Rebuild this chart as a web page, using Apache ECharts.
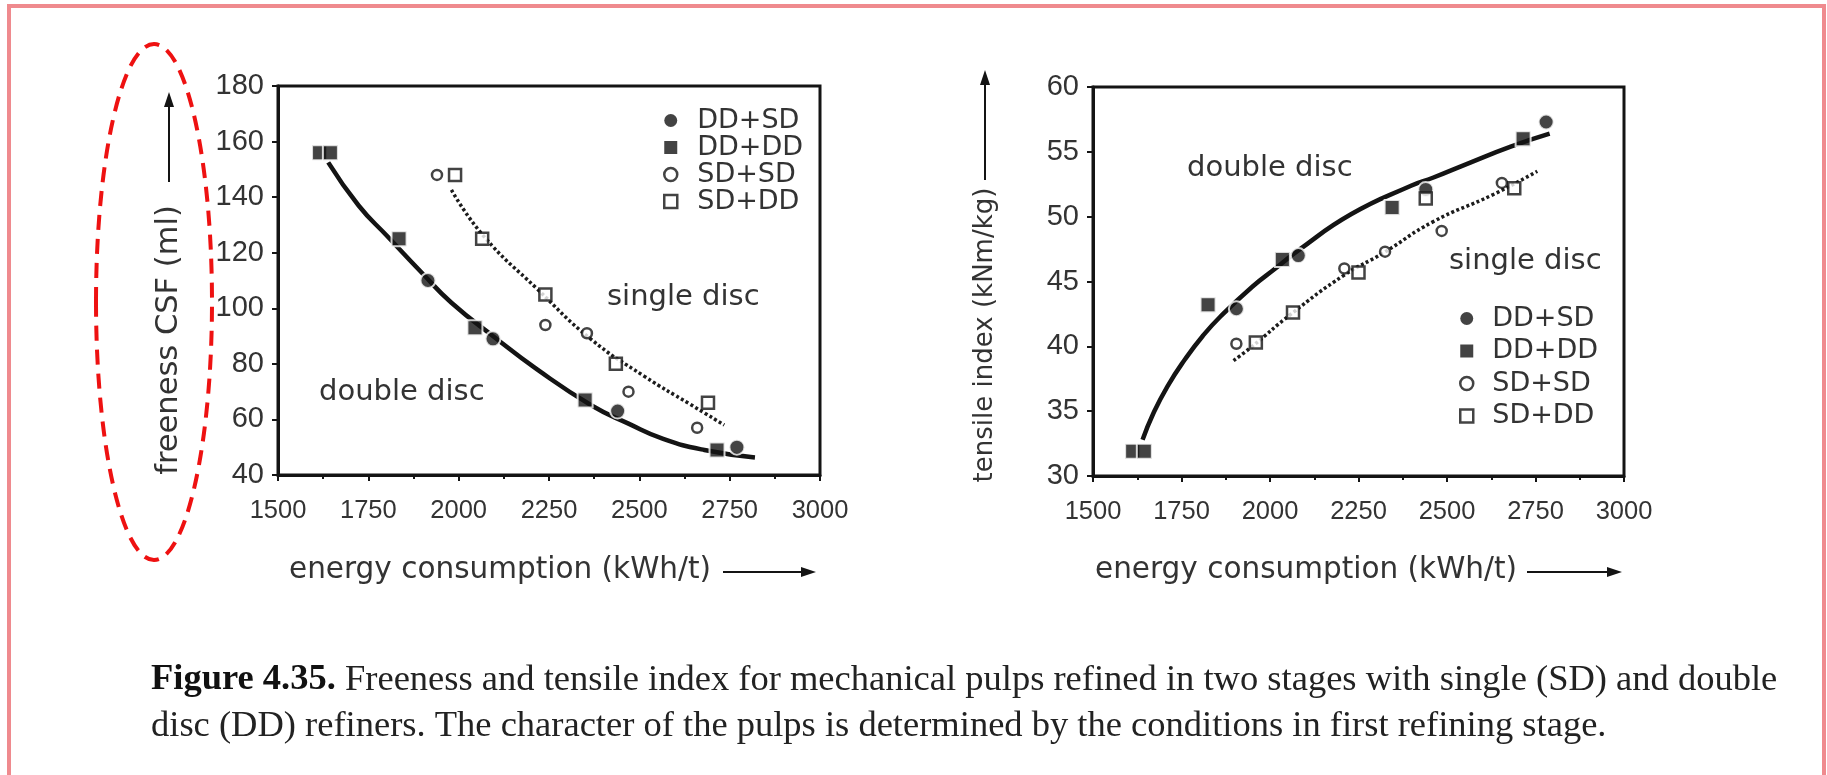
<!DOCTYPE html>
<html>
<head>
<meta charset="utf-8">
<script src="https://cdn.jsdelivr.net/npm/echarts@6/dist/echarts.min.js"></script>
<style>
html,body{margin:0;padding:0;background:#fff;}
#chart{width:1827px;height:775px;}
</style>
</head>
<body>
<div id="chart"></div>
<script>
// ---- Data ----
const energyTicks = [1500, 1750, 2000, 2250, 2500, 2750, 3000];
const freenessTicks = [40, 60, 80, 100, 120, 140, 160, 180];
const tensileTicks = [30, 35, 40, 45, 50, 55, 60];
const seriesNames = ['DD+SD', 'DD+DD', 'SD+SD', 'SD+DD'];

// Freeness CSF (ml) vs energy consumption (kWh/t)
const freenessDDSD = [[1915,110],[2095,89],[2440,63],[2770,50]];
const freenessDDDD = [[1615,156],[1645,156],[1835,125],[2045,93],[2350,67],[2715,49]];
const freenessSDSD = [[1940,148],[2240,94],[2355,91],[2470,70],[2660,57]];
const freenessSDDD = [[1990,148],[2065,125],[2240,105],[2435,80],[2690,66]];
const freenessDoubleDiscCurve = [[1639,152.5],[1723,137],[1802,126],[1900,112.5],[1980,102],[2100,89.5],[2217,78],[2368,65],[2470,58.5],[2566,53],[2680,49],[2820,46.3]];
const freenessSingleDiscCurve = [[1980,142.6],[2069,126],[2217,107],[2365,89],[2514,75.5],[2640,65.5],[2735,58]];

// Tensile index (kNm/kg) vs energy consumption (kWh/t)
const tensileDDSD = [[1905,42.9],[2080,47.0],[2440,52.1],[2780,57.3]];
const tensileDDDD = [[1612,31.9],[1645,31.9],[1825,43.2],[2035,46.7],[2345,50.7],[2715,56.0]];
const tensileSDSD = [[1905,40.2],[2210,46.0],[2325,47.3],[2485,48.9],[2655,52.6]];
const tensileSDDD = [[1960,40.3],[2065,42.6],[2250,45.7],[2440,51.4],[2690,52.2]];
const tensileDoubleDiscCurve = [[1640,32.8],[1670,34.8],[1710,36.9],[1760,39.0],[1810,40.8],[1860,42.3],[1950,44.6],[2015,46.0],[2080,47.4],[2230,50.2],[2400,52.4],[2460,53.0],[2550,54.0],[2680,55.4],[2790,56.4]];
const tensileSingleDiscCurve = [[1897,38.9],[1950,40.0],[2060,42.5],[2210,45.5],[2320,47.2],[2460,49.6],[2630,51.7],[2755,53.5]];

// ---- Styling helpers ----
const INK = '#141414';
const TXT = '#333';
const SANS = 'DejaVu Sans';
const TICKFONT = 'Liberation Sans';

const markerStyles = {
  'DD+SD': {symbol:'circle', symbolSize:15, itemStyle:{color:INK, borderColor:'#fff', borderWidth:2}},
  'DD+DD': {symbol:'rect', symbolSize:15, itemStyle:{color:INK, borderColor:'#fff', borderWidth:2}},
  'SD+SD': {symbol:'circle', symbolSize:10, itemStyle:{color:'#fff', borderColor:INK, borderWidth:2.5}},
  'SD+DD': {symbol:'rect', symbolSize:12, itemStyle:{color:'#fff', borderColor:INK, borderWidth:2.5}}
};

function xAxisFor(gi){
  return {
    gridIndex: gi, type:'value', min:1500, max:3000, interval:250,
    axisLine:{show:true, onZero:false, lineStyle:{color:INK, width:3}},
    axisTick:{show:true, length:6, lineStyle:{color:INK, width:2}},
    minorTick:{show:true, splitNumber:2, length:4, lineStyle:{color:INK, width:2}},
    splitLine:{show:false},
    axisLabel:{fontFamily:TICKFONT, fontSize:25.5, color:TXT, margin:23,
      formatter: v => energyTicks.includes(v) ? String(v) : ''}
  };
}
function yAxisFor(gi, min, max, interval, ticks){
  return {
    gridIndex: gi, type:'value', min:min, max:max, interval:interval,
    axisLine:{show:true, onZero:false, lineStyle:{color:INK, width:3}},
    axisTick:{show:true, length:6, lineStyle:{color:INK, width:2}},
    splitLine:{show:false},
    axisLabel:{fontFamily:TICKFONT, fontSize:29, color:TXT, margin:14,
      formatter: v => ticks.includes(v) ? String(v) : ''}
  };
}
function scatter(name, data, gi){
  const m = markerStyles[name];
  return {type:'scatter', name:name, xAxisIndex:gi, yAxisIndex:gi, data:data,
    symbol:m.symbol, symbolSize:m.symbolSize, itemStyle:m.itemStyle, z:5, silent:true};
}
function curve(name, data, gi, dotted){
  return {type:'line', name:name, xAxisIndex:gi, yAxisIndex:gi, data:data, smooth:0.5,
    showSymbol:false, symbol:'none', silent:true, z:3,
    lineStyle: dotted ? {color:'#1c1c1c', width:3.5, type:[3,2.5]} : {color:INK, width:4.5}};
}
function legendFor(left, top, gap, textPad){
  return {
    orient:'vertical', left:left, top:top, padding:0, itemGap:gap,
    itemWidth:13, itemHeight:13, selectedMode:false,
    textStyle:{fontFamily:SANS, fontSize:27, color:TXT, lineHeight:26, padding:[0,0,0,textPad]},
    data: seriesNames.map(n => ({name:n, icon: markerStyles[n].symbol,
      itemStyle: Object.assign({}, markerStyles[n].itemStyle, n.startsWith('DD') ? {borderWidth:0} : {})}))
  };
}
function arrowUp(x, yTop, yBottom){
  return [
    {type:'line', shape:{x1:x, y1:yBottom, x2:x, y2:yTop+12}, style:{stroke:INK, lineWidth:2}},
    {type:'polygon', shape:{points:[[x,yTop],[x-5,yTop+15],[x+5,yTop+15]]}, style:{fill:INK}}
  ];
}
function arrowRight(xLeft, xRight, y){
  return [
    {type:'line', shape:{x1:xLeft, y1:y, x2:xRight-12, y2:y}, style:{stroke:INK, lineWidth:2}},
    {type:'polygon', shape:{points:[[xRight,y],[xRight-15,y-5],[xRight-15,y+5]]}, style:{fill:INK}}
  ];
}
function label(text, x, y, rot, size){
  return {type:'text', x:x, y:y, rotation: rot || 0,
    style:{text:text, font:(size || 29) + 'px "' + SANS + '"', fill:TXT, align: rot ? 'center' : 'left', verticalAlign:'middle'}};
}

const chart = echarts.init(document.getElementById('chart'), null, {renderer:'canvas'});
chart.setOption({
  backgroundColor:'#fff',
  animation:false,
  grid:[
    {left:278, top:86, width:542, height:389, show:true, borderColor:INK, borderWidth:3, backgroundColor:'transparent'},
    {left:1093, top:87, width:531, height:389, show:true, borderColor:INK, borderWidth:3, backgroundColor:'transparent'}
  ],
  xAxis:[xAxisFor(0), xAxisFor(1)],
  yAxis:[yAxisFor(0, 40, 180, 20, freenessTicks), yAxisFor(1, 30, 60, 5, tensileTicks)],
  legend:[legendFor(663, 107, 0, 15), legendFor(1459, 305, 5.5, 14)],
  series:[
    curve('double disc (freeness)', freenessDoubleDiscCurve, 0, false),
    curve('single disc (freeness)', freenessSingleDiscCurve, 0, true),
    scatter('DD+SD', freenessDDSD, 0),
    scatter('DD+DD', freenessDDDD, 0),
    scatter('SD+SD', freenessSDSD, 0),
    scatter('SD+DD', freenessSDDD, 0),
    curve('double disc (tensile)', tensileDoubleDiscCurve, 1, false),
    curve('single disc (tensile)', tensileSingleDiscCurve, 1, true),
    scatter('DD+SD', tensileDDSD, 1),
    scatter('DD+DD', tensileDDDD, 1),
    scatter('SD+SD', tensileSDSD, 1),
    scatter('SD+DD', tensileSDDD, 1)
  ],
  graphic:[
    {type:'rect', shape:{x:9, y:6, width:1815, height:820}, style:{fill:'none', stroke:'#ef8a8e', lineWidth:4}, silent:true},
    {type:'ellipse', shape:{cx:154, cy:302, rx:58, ry:258}, style:{fill:'none', stroke:'#ee1111', lineWidth:4, lineDash:[15,9]}, silent:true},
    label('freeness CSF (ml)', 169, 340, Math.PI/2, 30.5),
    ...arrowUp(169, 92, 182),
    label('tensile index (kNm/kg)', 985, 335, Math.PI/2, 26),
    ...arrowUp(985, 70, 180),
    label('energy consumption (kWh/t)', 289, 570, 0, 29.5),
    ...arrowRight(723, 816, 572),
    label('energy consumption (kWh/t)', 1095, 570, 0, 29.5),
    ...arrowRight(1527, 1622, 572),
    label('single disc', 607, 297),
    label('double disc', 319, 392),
    label('double disc', 1187, 168),
    label('single disc', 1449, 261),
    {type:'text', x:151, y:680, style:{
      text:'{b|Figure 4.35.} Freeness and tensile index for mechanical pulps refined in two stages with single (SD) and double',
      font:'36.5px "Liberation Serif"', fill:'#222', align:'left', verticalAlign:'middle',
      rich:{b:{fontWeight:'bold', fontFamily:'Liberation Serif', fontSize:36.5, fill:'#111'}}}},
    {type:'text', x:151, y:726, style:{
      text:'disc (DD) refiners. The character of the pulps is determined by the conditions in first refining stage.',
      font:'36.5px "Liberation Serif"', fill:'#222', align:'left', verticalAlign:'middle'}}
  ]
});
</script>
</body>
</html>
